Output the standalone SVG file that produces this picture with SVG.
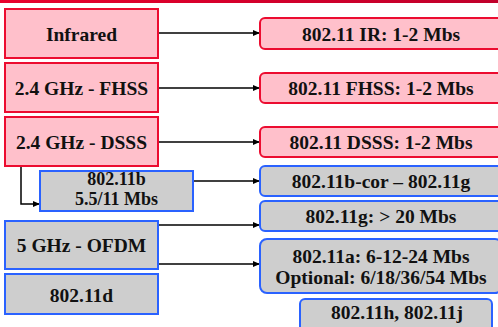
<svg xmlns="http://www.w3.org/2000/svg" width="498" height="327" viewBox="0 0 498 327">
<defs>
<linearGradient id="bar" x1="0" y1="0" x2="1" y2="0">
<stop offset="0" stop-color="#e8002c"/>
<stop offset="1" stop-color="#c0002a"/>
</linearGradient>
<marker id="ah" markerWidth="8" markerHeight="6" refX="7" refY="3" orient="auto" markerUnits="userSpaceOnUse">
<path d="M0,0 L7,3 L0,6 Z" fill="#000"/>
</marker>
</defs>
<style>
.pk{fill:#ffc0cb;stroke:#ec0c30;stroke-width:2}
.gr{fill:#cecece;stroke:#2a62ff;stroke-width:2}
text{font-family:"Liberation Serif","Times New Roman",serif;font-weight:bold;font-size:19.5px;fill:#111;text-anchor:middle}
.sm{font-size:18px}
.cn{fill:none;stroke:#000;stroke-width:1.5;marker-end:url(#ah)}
</style>
<rect x="0" y="0" width="498" height="3" fill="url(#bar)"/>
<g id="connectors">
<path class="cn" d="M158,33 H260"/>
<path class="cn" d="M158,88 H260"/>
<path class="cn" d="M158,142 H260"/>
<path class="cn" d="M21,166 V204 H40"/>
<path class="cn" d="M193,181 H260"/>
<path class="cn" d="M158,225 H260"/>
<path class="cn" d="M158,264 H260"/>
</g>
<g id="infrared"><rect class="pk" x="5" y="9" width="153" height="49"/><text x="81.5" y="41">Infrared</text></g>
<g id="fhss"><rect class="pk" x="5" y="63" width="153" height="49"/><text x="81.5" y="95">2.4 GHz - FHSS</text></g>
<g id="dsss"><rect class="pk" x="5" y="117" width="153" height="49"/><text x="81.5" y="149">2.4 GHz - DSSS</text></g>
<g id="b"><rect class="gr" x="40" y="171" width="153" height="40"/><text class="sm" x="116.5" y="185">802.11b</text><text class="sm" x="116.5" y="205">5.5/11 Mbs</text></g>
<g id="ofdm"><rect class="gr" x="5" y="221" width="153" height="48"/><text x="81.5" y="252">5 GHz - OFDM</text></g>
<g id="d"><rect class="gr" x="5" y="274" width="153" height="40"/><text x="81.5" y="302">802.11d</text></g>
<g id="ir"><rect class="pk" x="260" y="18" width="242" height="31" rx="5"/><text x="381" y="41">802.11 IR: 1-2 Mbs</text></g>
<g id="fhss2"><rect class="pk" x="260" y="73" width="242" height="30" rx="5"/><text x="381" y="95">802.11 FHSS: 1-2 Mbs</text></g>
<g id="dsss2"><rect class="pk" x="260" y="127" width="242" height="30" rx="5"/><text x="381" y="149">802.11 DSSS: 1-2 Mbs</text></g>
<g id="bcor"><rect class="gr" x="260" y="166" width="242" height="30" rx="5"/><text x="381" y="188">802.11b-cor – 802.11g</text></g>
<g id="g"><rect class="gr" x="260" y="201" width="242" height="30" rx="5"/><text x="381" y="223">802.11g: &gt; 20 Mbs</text></g>
<g id="a"><rect class="gr" x="260" y="239" width="242" height="54" rx="7"/><text x="381" y="263">802.11a: 6-12-24 Mbs</text><text x="381" y="284">Optional: 6/18/36/54 Mbs</text></g>
<g id="hj"><rect class="gr" x="300" y="299" width="192" height="34" rx="5"/><text x="397" y="319">802.11h, 802.11j</text></g>
</svg>
